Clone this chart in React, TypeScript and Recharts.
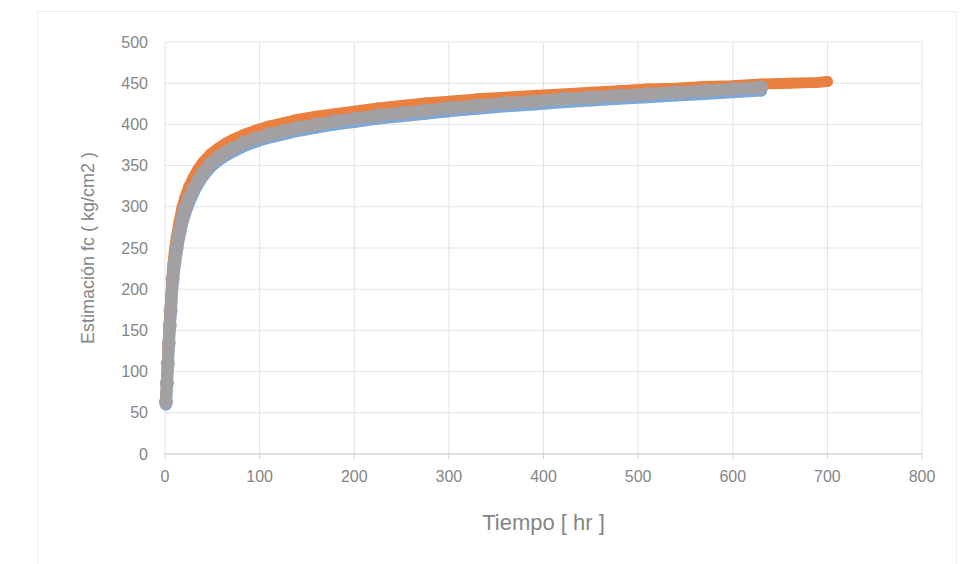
import { ScatterChart, Scatter, XAxis, YAxis, CartesianGrid, ZAxis } from 'recharts';

// tiempo (hr) y estimación fc (kg/cm2) por serie
const tiempoA = [1, 2, 3, 4, 5, 6, 8, 10, 12, 15, 18, 21, 25, 30, 35, 40, 48, 56, 64, 72, 84, 96, 110, 125, 140, 160, 180, 200, 225, 250, 275, 300, 330, 360, 390, 420, 450, 480, 510, 540, 570, 600, 630];
const fcAzul = [60, 83, 107, 131, 152, 170, 206, 226, 243, 263, 279, 291, 304, 317, 328, 337, 348, 356, 362, 367, 374, 379, 384, 388, 392, 396, 400, 403, 407, 410, 413, 416, 419, 422, 424, 427, 429, 431, 433, 435, 437, 439, 441];
const fcGris = [63, 86, 110, 135, 156, 174, 212, 232, 249, 269, 285, 297, 310, 322, 332, 341, 352, 360, 366, 371, 378, 383, 388, 392, 396, 400, 404, 407, 411, 414, 417, 420, 423, 426, 428, 431, 433, 435, 437, 439, 441, 443, 445];

const tiempoB = [1, 2, 3, 4, 5, 6, 8, 10, 12, 15, 18, 21, 25, 30, 35, 40, 48, 56, 64, 72, 84, 96, 110, 125, 140, 160, 180, 200, 225, 250, 275, 300, 330, 360, 390, 420, 450, 480, 510, 540, 570, 600, 630, 660, 690, 700];
const fcNaranja = [70, 96, 124, 150, 172, 190, 226, 247, 263, 283, 299, 311, 324, 336, 346, 354, 364, 371, 377, 382, 388, 393, 398, 402, 406, 410, 413, 416, 420, 423, 426, 428, 431, 433, 435, 437, 439, 441, 443, 444, 446, 447, 449, 450, 451, 452];

const xTicks = [0, 100, 200, 300, 400, 500, 600, 700, 800];
const yTicks = [0, 50, 100, 150, 200, 250, 300, 350, 400, 450, 500];

const azul = tiempoA.map((t, i) => ({ t, fc: fcAzul[i] }));
const gris = tiempoA.map((t, i) => ({ t, fc: fcGris[i] }));
const naranja = tiempoB.map((t, i) => ({ t, fc: fcNaranja[i] }));

const dot = (color: string, r: number) => (props: any) => (
  <circle cx={props.cx} cy={props.cy} r={r} fill={color} />
);

const font = 'Liberation Sans, Arial, sans-serif';
const tickStyle = { fill: '#858585', fontSize: 16, fontFamily: font };

export default function App() {
  return (
    <div style={{ position: 'absolute', left: 0, top: 0, width: 961, height: 564, background: '#fff' }}>
      <div style={{ position: 'absolute', left: 37, top: 11, width: 920, height: 560, border: '1px solid #ececec', boxSizing: 'border-box' }} />
      <ScatterChart width={961} height={564} margin={{ top: 42, right: 39, bottom: 30, left: 40 }}>
        <CartesianGrid stroke="#e3e3e3" strokeWidth={1} />
        <XAxis
          type="number"
          dataKey="t"
          domain={[0, 800]}
          ticks={xTicks}
          height={80}
          tick={tickStyle}
          tickSize={5}
          tickMargin={12}
          stroke="#cfcfcf"
          label={{ value: 'Tiempo  [ hr ]', position: 'insideBottom', offset: 4, fill: '#858585', fontSize: 22, fontFamily: font }}
        />
        <YAxis
          type="number"
          dataKey="fc"
          domain={[0, 500]}
          ticks={yTicks}
          width={125}
          tick={tickStyle}
          tickLine={false}
          axisLine={false}
          tickSize={0}
          tickMargin={17}
          label={{ value: 'Estimación fc  ( kg/cm2 )', angle: -90, position: 'insideLeft', offset: 48, style: { textAnchor: 'middle' }, fill: '#858585', fontSize: 18, fontFamily: font }}
        />
        <ZAxis range={[110, 110]} />
        <Scatter data={azul} fill="#7FA7D4" line={{ stroke: '#7FA7D4', strokeWidth: 12, strokeLinecap: 'round', strokeLinejoin: 'round' }} shape={dot('#7FA7D4', 6)} isAnimationActive={false} />
        <Scatter data={naranja} fill="#E9803F" line={{ stroke: '#E9803F', strokeWidth: 11, strokeLinecap: 'round', strokeLinejoin: 'round' }} shape={dot('#E9803F', 5.5)} isAnimationActive={false} />
        <Scatter data={gris} fill="#A3A0A3" line={{ stroke: '#A3A0A3', strokeWidth: 12, strokeLinecap: 'round', strokeLinejoin: 'round' }} shape={dot('#A3A0A3', 7)} isAnimationActive={false} />
      </ScatterChart>
    </div>
  );
}
